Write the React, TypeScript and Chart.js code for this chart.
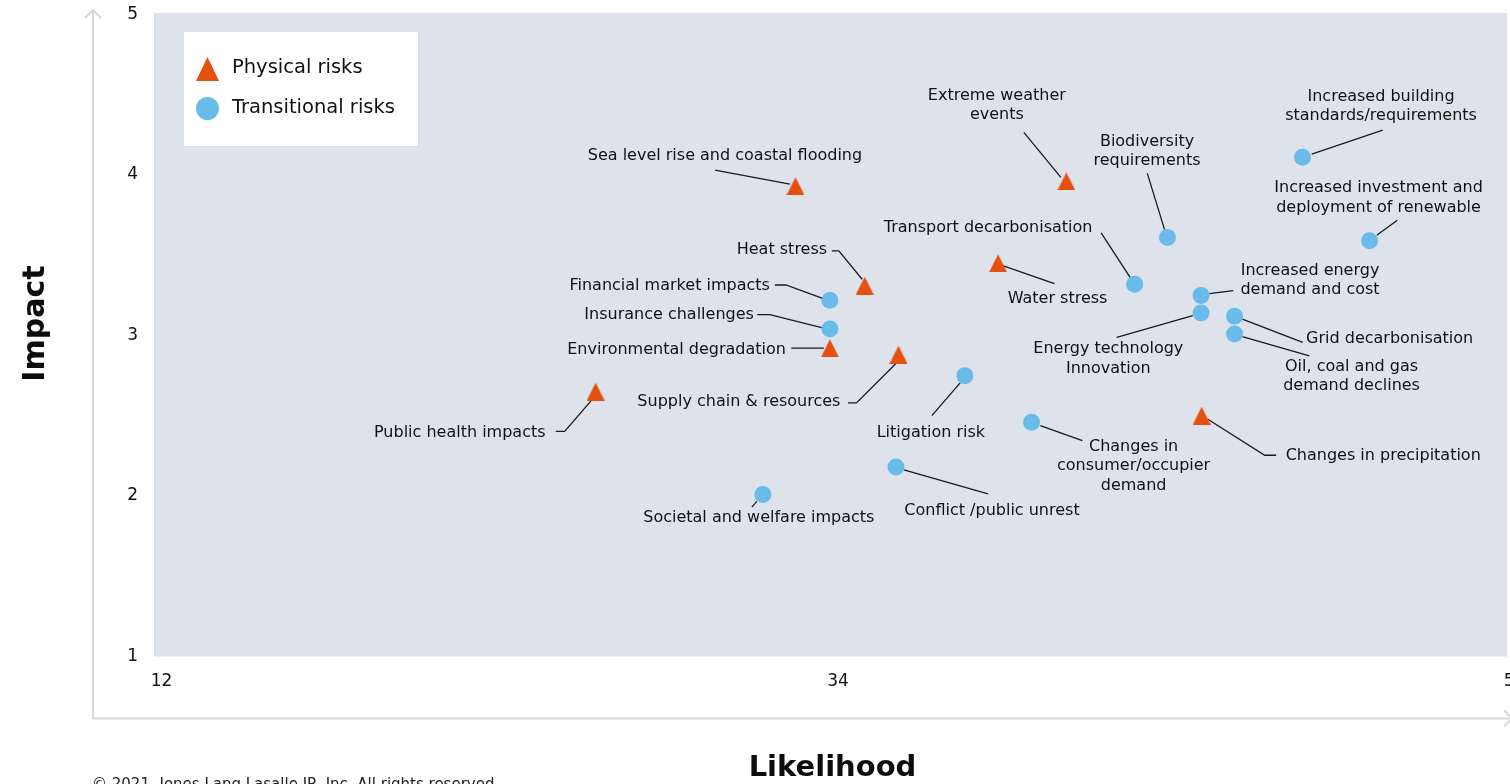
import React, { useEffect, useRef } from "react";
import { Chart, registerables } from "chart.js";

Chart.register(...registerables);

// ---------- data ----------
const seriesNames = ["Physical risks", "Transitional risks"];

const physicalNames = [
  "Sea level rise and coastal flooding",
  "Extreme weather\nevents",
  "Heat stress",
  "Water stress",
  "Environmental degradation",
  "Supply chain & resources",
  "Public health impacts",
  "Changes in precipitation",
];
const physicalLikelihood = [32.86, 41.67, 35.11, 39.45, 33.98, 36.21, 26.36, 46.07];
const physicalImpact = [3.93, 3.96, 3.31, 3.45, 2.92, 2.88, 2.65, 2.5];

const transitionalNames = [
  "Increased building\nstandards/requirements",
  "Increased investment and\ndeployment of renewable",
  "Biodiversity\nrequirements",
  "Transport decarbonisation",
  "Increased energy\ndemand and cost",
  "Energy technology\nInnovation",
  "Grid decarbonisation",
  "Oil, coal and gas\ndemand declines",
  "Financial market impacts",
  "Insurance challenges",
  "Litigation risk",
  "Changes in\nconsumer/occupier\ndemand",
  "Conflict /public unrest",
  "Societal and welfare impacts",
];
const transitionalLikelihood = [49.35, 51.53, 44.96, 43.89, 46.05, 46.05, 47.14, 47.14, 33.98, 33.98, 38.37, 40.54, 36.13, 31.8];
const transitionalImpact = [4.11, 3.59, 3.61, 3.32, 3.25, 3.14, 3.12, 3.01, 3.22, 3.04, 2.75, 2.46, 2.18, 2.01];

const likelihoodTicks = [12, 34, 56];
const impactTicks = [1, 2, 3, 4, 5];

const xTitle = "Likelihood";
const yTitle = "Impact";
const copyright = "© 2021. Jones Lang Lasalle IP, Inc. All rights reserved";

// ---------- label layout (pixel offsets from each marker) ----------
type LabelLayout = { dx: number; dy: number; align: CanvasTextAlign; leader: number[][] };

const physicalLabelLayout: LabelLayout[] = [
  { dx: -70.5, dy: -30, align: "center", leader: [[-80.5, -16], [-5.5, -2]] },
  { dx: -69.5, dy: -86, align: "center", leader: [[-42.5, -49], [-5.5, -4]] },
  { dx: -37.5, dy: -35.5, align: "right", leader: [[-32.8, -34.8], [-25.8, -34.8], [-2.5, -6.5]] },
  { dx: 59.5, dy: 35.5, align: "center", leader: [[5.3, 2.7], [56.3, 20.3]] },
  { dx: -44, dy: 2, align: "right", leader: [[-38.7, -0.3], [-6, -0.3]] },
  { dx: -58, dy: 47.5, align: "right", leader: [[-50.5, 48.2], [-42, 48.2], [-2.5, 8.8]] },
  { dx: -50, dy: 41, align: "right", leader: [[-39.8, 39.7], [-30.9, 39.7], [-3.5, 8]] },
  { dx: 84, dy: 40.5, align: "left", leader: [[6.2, 3.5], [63.1, 39.5], [74.5, 39.5]] },
];

const transitionalLabelLayout: LabelLayout[] = [
  { dx: 78.5, dy: -61, align: "center", leader: [[80.2, -27.3], [9.2, -3.3]] },
  { dx: 9, dy: -52.5, align: "center", leader: [[27.8, -20.5], [7.2, -5.5]] },
  { dx: -20.5, dy: -96, align: "center", leader: [[-20.2, -64.2], [-2.8, -7.5]] },
  { dx: -146.5, dy: -56.5, align: "center", leader: [[-33.5, -51.2], [-4.5, -6.8]] },
  { dx: 109, dy: -25, align: "center", leader: [[32.3, -4.7], [8.3, -1.7]] },
  { dx: -92.7, dy: 36, align: "center", leader: [[-84.3, 24.3], [-8.3, 2.7]] },
  { dx: 71.5, dy: 22.5, align: "left", leader: [[7.8, 2.8], [68.2, 26.2]] },
  { dx: 117, dy: 32.5, align: "center", leader: [[7.8, 2.7], [74.8, 22]] },
  { dx: -60, dy: -14.5, align: "right", leader: [[-55, -15.2], [-44, -15.2], [-7.3, -1.8]] },
  { dx: -76, dy: -14.5, align: "right", leader: [[-72.7, -14.5], [-60, -14.5], [-7.3, -1.2]] },
  { dx: -34, dy: 57.5, align: "center", leader: [[-33, 40], [-4.7, 7.3]] },
  { dx: 102, dy: 24.5, align: "center", leader: [[8.7, 3.5], [50.8, 18.5]] },
  { dx: 96, dy: 43.5, align: "center", leader: [[7.9, 2.8], [92, 26.8]] },
  { dx: -4, dy: 23, align: "center", leader: [[-6, 7], [-11, 12.7]] },
];

// ---------- styles ----------
const FONT = '"DejaVu Sans", "Noto Sans", sans-serif';
const ORANGE = "#e4500e";
const BLUE = "#69bce9";
const PLOT_BG = "#dee2eb";
const AXIS_GREY = "#d7d7d7";
const TEXT = "#111111";
const CANVAS_W = 1540;
const CANVAS_H = 784;

function makeTriangle(w: number, h: number, color: string) {
  const c = document.createElement("canvas");
  c.width = w;
  c.height = h;
  const ctx = c.getContext("2d")!;
  ctx.fillStyle = color;
  ctx.beginPath();
  ctx.moveTo(w / 2, 0);
  ctx.lineTo(w, h);
  ctx.lineTo(0, h);
  ctx.closePath();
  ctx.fill();
  return c;
}

export default function App() {
  const ref = useRef<HTMLCanvasElement | null>(null);

  useEffect(() => {
    if (!ref.current) return;
    const tri = makeTriangle(18, 18, ORANGE);
    const legendTri = makeTriangle(23, 24, ORANGE);

    const groups = () => [
      { names: physicalNames, layout: physicalLabelLayout, index: 0 },
      { names: transitionalNames, layout: transitionalLabelLayout, index: 1 },
    ];

    const decor = {
      id: "decor",
      beforeDraw(chart: any) {
        const { ctx, chartArea: a } = chart;
        ctx.save();
        ctx.fillStyle = "#ffffff";
        ctx.fillRect(0, 0, chart.width, chart.height);
        ctx.fillStyle = PLOT_BG;
        ctx.fillRect(a.left, a.top - 1.5, a.right - a.left, a.bottom - a.top + 1.5);

        // axis lines with arrows
        const ax = a.left - 61;
        const ay = a.bottom + 62;
        const tipX = a.right + 5;
        ctx.strokeStyle = AXIS_GREY;
        ctx.lineWidth = 2;
        ctx.beginPath();
        ctx.moveTo(ax, 10);
        ctx.lineTo(ax, ay);
        ctx.lineTo(tipX, ay);
        ctx.stroke();
        ctx.beginPath();
        ctx.moveTo(ax - 8, 18);
        ctx.lineTo(ax, 10);
        ctx.lineTo(ax + 8, 18);
        ctx.stroke();
        ctx.beginPath();
        ctx.moveTo(tipX - 8, ay - 8);
        ctx.lineTo(tipX, ay);
        ctx.lineTo(tipX - 8, ay + 8);
        ctx.stroke();
        ctx.restore();
      },
      beforeDatasetsDraw(chart: any) {
        const { ctx } = chart;
        ctx.save();
        ctx.strokeStyle = "#1a1a1a";
        ctx.lineWidth = 1.3;
        for (const g of groups()) {
          const meta = chart.getDatasetMeta(g.index);
          g.layout.forEach((l, i) => {
            const el = meta.data[i];
            if (!el) return;
            ctx.beginPath();
            l.leader.forEach((p, k) => {
              const px = el.x + p[0];
              const py = el.y + p[1];
              if (k === 0) ctx.moveTo(px, py);
              else ctx.lineTo(px, py);
            });
            ctx.stroke();
          });
        }
        ctx.restore();
      },
      afterDatasetsDraw(chart: any) {
        const { ctx, chartArea: a } = chart;
        ctx.save();
        ctx.fillStyle = TEXT;
        ctx.font = `16px ${FONT}`;
        ctx.textBaseline = "middle";
        for (const g of groups()) {
          const meta = chart.getDatasetMeta(g.index);
          g.layout.forEach((l, i) => {
            const el = meta.data[i];
            if (!el) return;
            ctx.textAlign = l.align;
            const lines = g.names[i].split("\n");
            lines.forEach((t, k) => {
              ctx.fillText(t, el.x + l.dx, el.y + l.dy + k * 19.5);
            });
          });
        }

        // legend
        const lx = a.left + 30;
        const ly = a.top + 17.5;
        ctx.fillStyle = "#ffffff";
        ctx.fillRect(lx, ly, 234, 114);
        ctx.drawImage(legendTri, lx + 12, ly + 25);
        ctx.fillStyle = BLUE;
        ctx.beginPath();
        ctx.arc(lx + 23.5, ly + 76.5, 11.5, 0, Math.PI * 2);
        ctx.fill();
        ctx.fillStyle = TEXT;
        ctx.font = `19.5px ${FONT}`;
        ctx.textAlign = "left";
        ctx.textBaseline = "middle";
        ctx.fillText(seriesNames[0], lx + 48, ly + 36);
        ctx.fillText(seriesNames[1], lx + 48, ly + 76);
        ctx.restore();
      },
      afterDraw(chart: any) {
        const { ctx, chartArea: a } = chart;
        ctx.save();
        ctx.fillStyle = "#0d0d0d";
        ctx.textAlign = "center";
        ctx.textBaseline = "alphabetic";
        ctx.font = `bold 29px ${FONT}`;
        ctx.fillText(xTitle, (a.left + a.right) / 2 + 2, a.bottom + 119.5);
        ctx.save();
        ctx.translate(a.left - 110, (a.top + a.bottom) / 2 - 12);
        ctx.rotate(-Math.PI / 2);
        ctx.font = `bold 30px ${FONT}`;
        ctx.fillText(yTitle, 0, 0);
        ctx.restore();
        ctx.font = `15px ${FONT}`;
        ctx.textAlign = "left";
        ctx.fillStyle = "#222222";
        ctx.fillText(copyright, a.left - 62, a.bottom + 132);
        ctx.restore();
      },
    };

    const chart = new Chart(ref.current, {
      type: "scatter",
      data: {
        datasets: [
          {
            label: seriesNames[0],
            data: physicalLikelihood.map((x, i) => ({ x, y: physicalImpact[i] })),
            pointStyle: tri as any,
            pointRadius: 9,
            backgroundColor: ORANGE,
            borderWidth: 0,
          },
          {
            label: seriesNames[1],
            data: transitionalLikelihood.map((x, i) => ({ x, y: transitionalImpact[i] })),
            pointStyle: "circle",
            pointRadius: 8.5,
            backgroundColor: BLUE,
            borderWidth: 0,
          },
        ],
      },
      options: {
        responsive: false,
        animation: false,
        devicePixelRatio: 1,
        events: [],
        layout: { padding: { left: 94, right: 33, top: 14.5, bottom: 0 } },
        plugins: {
          legend: { display: false },
          tooltip: { enabled: false },
        },
        scales: {
          x: {
            type: "linear",
            min: likelihoodTicks[0],
            max: likelihoodTicks[likelihoodTicks.length - 1],
            afterBuildTicks: (scale: any) => {
              scale.ticks = likelihoodTicks.map((v) => ({ value: v }));
            },
            afterFit: (scale: any) => {
              scale.height = 127.5;
            },
            grid: { display: false, drawTicks: true, tickLength: 15 },
            border: { display: false },
            ticks: {
              autoSkip: false,
              padding: 0,
              labelOffset: 7.5,
              maxRotation: 0,
              color: "#111111",
              font: { family: FONT, size: 17 },
            },
          },
          y: {
            type: "linear",
            min: impactTicks[0],
            max: impactTicks[impactTicks.length - 1],
            afterBuildTicks: (scale: any) => {
              scale.ticks = impactTicks.map((v) => ({ value: v }));
            },
            afterFit: (scale: any) => {
              scale.width = 60;
            },
            grid: { display: false, drawTicks: true, tickLength: 16 },
            border: { display: false },
            ticks: {
              padding: 0,
              color: "#111111",
              font: { family: FONT, size: 17 },
            },
          },
        },
      },
      plugins: [decor],
    } as any);

    return () => chart.destroy();
  }, []);

  return (
    <div
      style={{
        position: "absolute",
        left: 0,
        top: 0,
        width: 1510,
        height: 784,
        overflow: "hidden",
        background: "#ffffff",
      }}
    >
      <canvas
        ref={ref}
        width={CANVAS_W}
        height={CANVAS_H}
        style={{ display: "block", width: CANVAS_W, height: CANVAS_H }}
      />
    </div>
  );
}
